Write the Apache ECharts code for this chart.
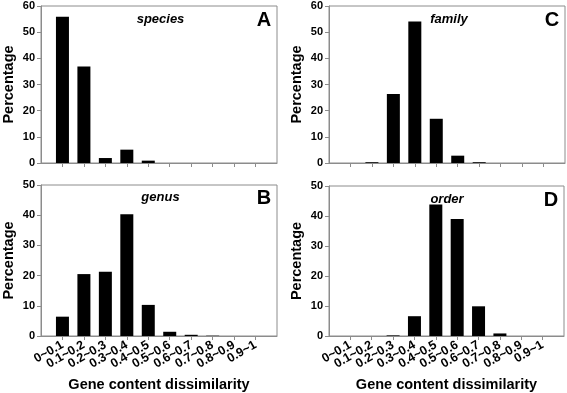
<!DOCTYPE html>
<html>
<head>
<meta charset="utf-8">
<script src="https://cdn.jsdelivr.net/npm/echarts@6/dist/echarts.min.js"></script>
<style>
html, body { margin: 0; padding: 0; background: #fff; }
#main { width: 567px; height: 393px; }
</style>
</head>
<body>
<div id="main"></div>
<script>
var categories = ['0~0.1', '0.1~0.2', '0.2~0.3', '0.3~0.4', '0.4~0.5', '0.5~0.6', '0.6~0.7', '0.7~0.8', '0.8~0.9', '0.9~1'];
var species = [55.9, 36.9, 1.9, 5.1, 0.9, 0, 0, 0, 0, 0];
var genus = [6.4, 20.5, 21.3, 40.3, 10.3, 1.4, 0.4, 0.1, 0, 0];
var family = [0, 0.3, 26.4, 54.1, 16.9, 2.8, 0.3, 0, 0, 0];
var order = [0, 0, 0.2, 6.6, 43.8, 39, 9.9, 0.85, 0, 0];
var yTicksTop = [0, 60, 10];   // min, max, step
var yTicksBottom = [0, 50, 10];

var myChart = echarts.init(document.getElementById('main'));
var FONT = 'Liberation Sans';
var GREY = '#8c8c8c';
var positions = categories.map(function (c, i) { return i + 1; });
// labels overlap each other, so they are split over two label-only axes
var oddPos = positions.filter(function (v) { return v % 2 === 1; });
var evenPos = positions.filter(function (v) { return v % 2 === 0; });

var panels = [
    {data: species, title: 'species', letter: 'A', grid: {left: 40, top: 6, width: 237, height: 157}, y: yTicksTop, labels: false, titleY: 19},
    {data: genus, title: 'genus', letter: 'B', grid: {left: 40, top: 185, width: 237, height: 157}, y: yTicksBottom, labels: true, titleY: 197},
    {data: family, title: 'family', letter: 'C', grid: {left: 329, top: 6, width: 236, height: 157}, y: yTicksTop, labels: false, titleY: 19},
    {data: order, title: 'order', letter: 'D', grid: {left: 329, top: 186, width: 235, height: 157}, y: yTicksBottom, labels: true, titleY: 199}
];

function labelAxis(k, vals) {
    return {
        type: 'value', gridIndex: k, min: 0, max: 11, position: 'bottom',
        axisLine: {show: false}, axisTick: {show: false}, splitLine: {show: false},
        axisLabel: {
            show: true, customValues: vals, rotate: 30, margin: 8,
            showMinLabel: true, showMaxLabel: true,
            fontFamily: FONT, fontWeight: 'bold', fontSize: 12.5, color: '#000',
            formatter: function (v) { return categories[Math.round(v) - 1] || ''; }
        }
    };
}

var grids = [], xAxes = [], yAxes = [], series = [], graphics = [];
panels.forEach(function (p, k) {
    grids.push(Object.assign({show: true, borderColor: GREY, borderWidth: 1, backgroundColor: '#fff'}, p.grid));
    xAxes.push({
        type: 'value', gridIndex: k, min: 0, max: 11, position: 'bottom',
        axisLine: {show: true, lineStyle: {color: GREY, width: 1}},
        axisTick: {show: true, length: 4, lineStyle: {color: GREY}, customValues: positions},
        axisLabel: {show: false},
        splitLine: {show: false},
        name: p.labels ? 'Gene content dissimilarity' : '',
        nameLocation: 'middle', nameGap: 41,
        nameTextStyle: {fontFamily: FONT, fontWeight: 'bold', fontSize: 14.5, color: '#000'}
    });
    yAxes.push({
        type: 'value', gridIndex: k, min: p.y[0], max: p.y[1], interval: p.y[2],
        axisLine: {show: true, lineStyle: {color: GREY, width: 1}},
        axisTick: {show: true, length: 4, lineStyle: {color: GREY}},
        axisLabel: {fontFamily: FONT, fontWeight: 'bold', fontSize: 11, color: '#000', margin: 6},
        splitLine: {show: false},
        name: 'Percentage', nameLocation: 'middle', nameGap: 25, nameRotate: 90,
        nameTextStyle: {fontFamily: FONT, fontWeight: 'bold', fontSize: 14.5, color: '#000'}
    });
    series.push({
        type: 'bar', xAxisIndex: k, yAxisIndex: k, barWidth: 13,
        itemStyle: {color: '#000'},
        data: p.data.map(function (v, i) { return [positions[i], v]; })
    });
    graphics.push({
        type: 'text', x: p.grid.left + p.grid.width / 2 + 2, y: p.titleY,
        style: {text: p.title, font: 'italic bold 13px ' + FONT, fill: '#000', textAlign: 'center', textVerticalAlign: 'middle'}
    });
    graphics.push({
        type: 'text', x: p.grid.left + p.grid.width - 13, y: p.titleY + 1,
        style: {text: p.letter, font: 'bold 20px ' + FONT, fill: '#000', textAlign: 'center', textVerticalAlign: 'middle'}
    });
});
// extra label-only axes for the bottom panels
panels.forEach(function (p, k) {
    if (p.labels) {
        xAxes.push(labelAxis(k, oddPos));
        xAxes.push(labelAxis(k, evenPos));
    }
});
// order title sits just above the tallest bar, left of centre
graphics[6].x = 447;

myChart.setOption({
    animation: false,
    grid: grids,
    xAxis: xAxes,
    yAxis: yAxes,
    series: series,
    graphic: graphics
});
</script>
</body>
</html>
